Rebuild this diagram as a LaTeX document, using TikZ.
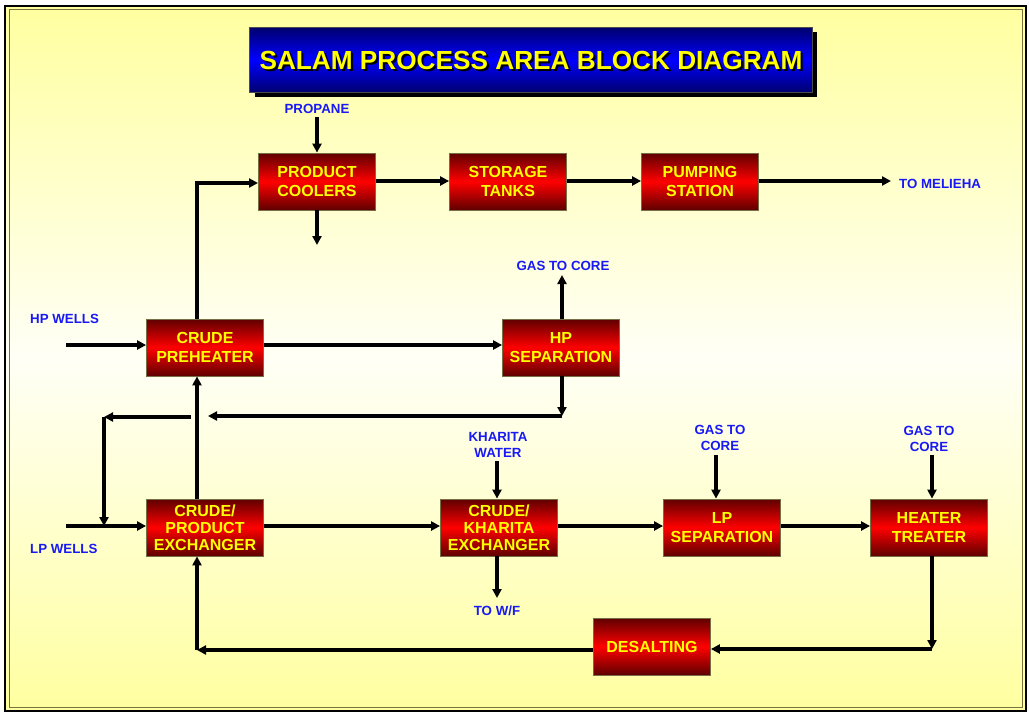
\documentclass[tikz,border=0pt]{standalone}
\usepackage{fontspec}
\setmainfont{Liberation Sans}
\usetikzlibrary{arrows.meta,calc}
\definecolor{bgyel}{RGB}{255,255,160}
\definecolor{bgwhite}{RGB}{255,255,246}
\definecolor{boxdark}{RGB}{95,0,0}
\definecolor{boxred}{RGB}{255,0,0}
\definecolor{boxline}{RGB}{120,110,70}
\definecolor{lblblue}{RGB}{25,25,245}
\definecolor{txtyel}{RGB}{255,255,0}
\definecolor{navy}{RGB}{0,0,110}
\definecolor{brblue}{RGB}{0,0,255}
\definecolor{olive}{RGB}{120,115,60}
\tikzset{
  blk/.style={draw=boxline, line width=0.8pt, top color=boxdark, bottom color=boxdark, middle color=boxred,
    minimum width=117pt, minimum height=57pt, inner sep=0pt, align=center, text=txtyel,
    font=\bfseries\fontsize{16}{19}\selectfont},
  blkthree/.style={blk, font=\bfseries\fontsize{16}{17}\selectfont},
  lbl/.style={text=lblblue, align=center, inner sep=0pt, font=\bfseries\fontsize{13.3}{16}\selectfont},
  flow/.style={line width=3.2pt, -{Triangle[length=9pt,width=9pt]}}
}
\begin{document}
\begin{tikzpicture}[x=1pt,y=-1pt]
\useasboundingbox (0,0) rectangle (1029,713);
% background and frame
\fill[white] (0,0) rectangle (1029,713);
\shade[top color=bgyel, bottom color=bgyel, middle color=bgwhite] (6,7) rectangle (1025,710);
\draw[black, line width=2pt] (5,6) rectangle (1026,711);
\draw[olive, line width=1pt] (9,9.5) rectangle (1022,707);

% title
\fill[black] (255,32) rectangle (817,97);
\node[draw=black!70, line width=0.6pt, top color=navy, bottom color=navy, middle color=brblue,
  minimum width=563pt, minimum height=65pt, inner sep=0pt] (title) at (531,60) {};
\node[text=black, font=\bfseries\fontsize{26.2}{30}\selectfont] (titleshadow) at ($(title.center)+(2,2.5)$) {SALAM PROCESS AREA BLOCK DIAGRAM};
\node[text=txtyel, font=\bfseries\fontsize{26.2}{30}\selectfont] (titletext) at (title.center) {SALAM PROCESS AREA BLOCK DIAGRAM};

% blocks
\node[blk] (pc) at (317,181.5) {PRODUCT\\COOLERS};
\node[blk] (st) at (508,181.5) {STORAGE\\TANKS};
\node[blk] (ps) at (700,181.5) {PUMPING\\STATION};
\node[blk] (cp) at (205,347.5) {CRUDE\\PREHEATER};
\node[blk] (hp) at (561,347.5) {HP\\SEPARATION};
\node[blkthree] (cpe) at (205,527.5) {CRUDE/\\PRODUCT\\EXCHANGER};
\node[blkthree] (cke) at (499,527.5) {CRUDE/\\KHARITA\\EXCHANGER};
\node[blk] (lp) at (722,527.5) {LP\\SEPARATION};
\node[blk] (ht) at (929,527.5) {HEATER\\TREATER};
\node[blk] (ds) at (652,646.5) {DESALTING};

% labels
\node[lbl] (propane) at (317,109) {PROPANE};
\node[lbl, anchor=west] (melieha) at (899,184) {TO MELIEHA};
\node[lbl] (gashp) at (563,266) {GAS TO CORE};
\node[lbl, anchor=west] (hpw) at (30,319) {HP WELLS};
\node[lbl, anchor=west] (lpw) at (30,549) {LP WELLS};
\node[lbl] (kw) at (498,445) {KHARITA\\WATER};
\node[lbl] (gaslp) at (720,438) {GAS TO\\CORE};
\node[lbl] (gasht) at (929,439) {GAS TO\\CORE};
\node[lbl] (towf) at (497,611) {TO W/F};

% coordinates
\coordinate (propout) at (317,117);
\coordinate (pcout) at (317,245);
\coordinate (pcin) at (258,183);
\coordinate (cpup) at (197,183);
\coordinate (hpwin) at (66,345);
\coordinate (lpwin) at (66,526);
\coordinate (meliehaend) at (891,181);
\coordinate (gashpend) at (562,275);
\coordinate (hpc1) at (562,416);
\coordinate (hpc2) at (208,416);
\coordinate (lc1) at (191,417);
\coordinate (lc2) at (104,417);
\coordinate (lc3) at (104,526);
\coordinate (kwout) at (497,461);
\coordinate (towfend) at (497,598);
\coordinate (gaslpout) at (716,455);
\coordinate (gashtout) at (932,455);
\coordinate (htc1) at (932,649);
\coordinate (dc1) at (197,650);

% connectors
\draw[flow] (propout) -- (pc.north);
\draw[flow] (pc.south) -- (pcout);
\draw[flow] (pc.east |- 0,181) -- (st.west |- 0,181);
\draw[flow] (st.east |- 0,181) -- (ps.west |- 0,181);
\draw[flow] (ps.east |- 0,181) -- (meliehaend);
\draw[flow] (cp.north -| cpup) -- (cpup) -- (pcin);
\draw[flow] (hpwin) -- (cp.west |- hpwin);
\draw[flow] (cp.east |- hpwin) -- (hp.west |- hpwin);
\draw[flow] (hp.north -| gashpend) -- (gashpend);
\draw[flow] (hp.south -| hpc1) -- (hpc1);
\draw[flow] (hpc1) -- (hpc2);
\draw[flow] (lc1) -- (lc2);
\draw[flow] (lc2) -- (lc3);
\draw[flow] (cpe.north -| cpup) -- (cp.south -| cpup);
\draw[flow] (lpwin) -- (cpe.west |- lpwin);
\draw[flow] (cpe.east |- lpwin) -- (cke.west |- lpwin);
\draw[flow] (kwout) -- (cke.north -| kwout);
\draw[flow] (cke.south -| towfend) -- (towfend);
\draw[flow] (cke.east |- lpwin) -- (lp.west |- lpwin);
\draw[flow] (gaslpout) -- (lp.north -| gaslpout);
\draw[flow] (lp.east |- lpwin) -- (ht.west |- lpwin);
\draw[flow] (gashtout) -- (ht.north -| gashtout);
\draw[flow] (ht.south -| htc1) -- (htc1);
\draw[flow] (htc1) -- (ds.east |- htc1);
\draw[flow] (ds.west |- dc1) -- (dc1);
\draw[flow] (dc1) -- (cpe.south -| dc1);
\end{tikzpicture}
\end{document}
